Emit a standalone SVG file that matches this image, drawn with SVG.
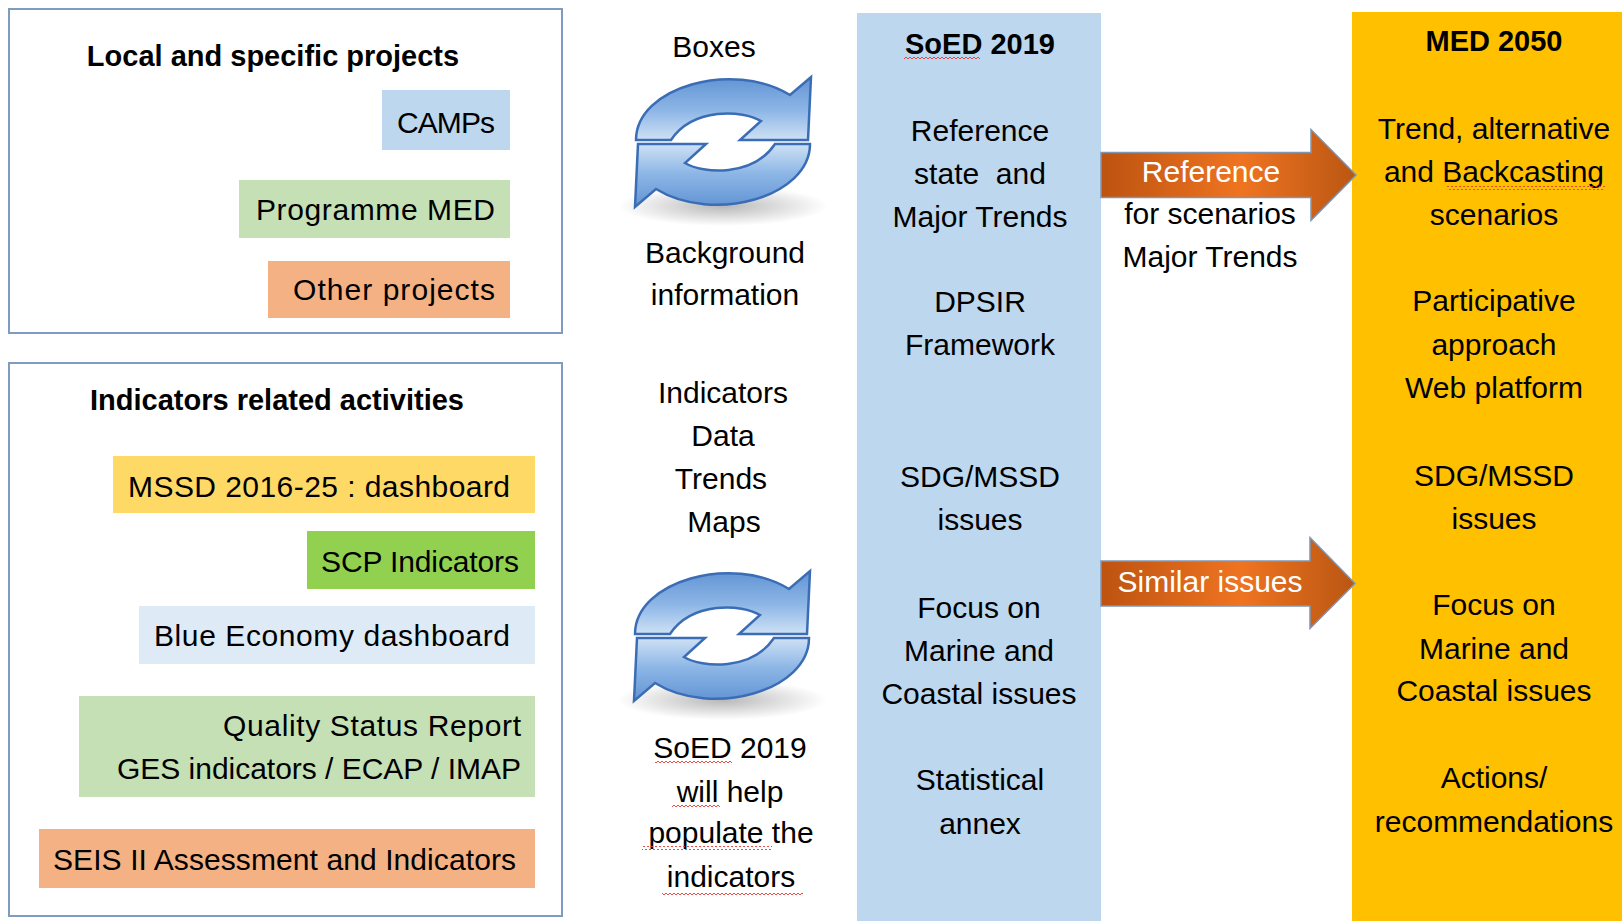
<svg xmlns="http://www.w3.org/2000/svg" xmlns:xlink="http://www.w3.org/1999/xlink" width="1622" height="921" viewBox="0 0 1622 921">
  <style>
    text { font-family: "Liberation Sans", Arial, sans-serif; fill: #000; }
    .h { font-size: 29px; font-weight: bold; text-anchor: middle; }
    .t { font-size: 30px; }
    .c { font-size: 30px; text-anchor: middle; }
    .e { font-size: 30px; text-anchor: end; }
    .w { font-size: 30px; text-anchor: middle; fill: #fff; }
    .frame { fill: #fff; stroke: #7F9BBF; stroke-width: 2; }
    .arrow { fill: url(#arrowGrad); stroke: #7D96B5; stroke-width: 1.5; }
    .squig { fill: url(#squig); }
  </style>
  <defs>
    <pattern id="squig" width="4" height="4" patternUnits="userSpaceOnUse">
      <path d="M0,3 L2,1 L4,3" fill="none" stroke="#E53935" stroke-width="0.9"/>
    </pattern>
    <linearGradient id="arrowGrad" x1="0" y1="0" x2="1" y2="0">
      <stop offset="0" stop-color="#BD5310"/>
      <stop offset="0.55" stop-color="#EF7421"/>
      <stop offset="1" stop-color="#BA5612"/>
    </linearGradient>
    <linearGradient id="icoGrad" gradientUnits="userSpaceOnUse" x1="0" y1="-70" x2="0" y2="0">
      <stop offset="0" stop-color="#5B8FD1"/>
      <stop offset="0.55" stop-color="#8DB6E6"/>
      <stop offset="1" stop-color="#D3E4F6"/>
    </linearGradient>
    <radialGradient id="shadowGrad" cx="0.5" cy="0.5" r="0.5">
      <stop offset="0" stop-color="#000" stop-opacity="0.28"/>
      <stop offset="1" stop-color="#000" stop-opacity="0"/>
    </radialGradient>
    <path id="halfArrow" d="M85,-2 L17,-2 L38,-21 C20,-32 -30,-35 -52,-2 L-87,-2 C-87,-55 10,-82 67,-47 L88,-65 Z" fill="url(#icoGrad)" stroke="#3A6DB5" stroke-width="2.5" stroke-linejoin="miter"/>
    <g id="cycleIcon">
      <ellipse cx="0" cy="64" rx="105" ry="20" fill="url(#shadowGrad)"/>
      <use xlink:href="#halfArrow"/>
      <use xlink:href="#halfArrow" transform="rotate(180)"/>
    </g>
  </defs>

  <rect width="1622" height="921" fill="#fff"/>

  <!-- Local and specific projects -->
  <g id="local-projects">
    <rect class="frame" x="9" y="9" width="553" height="324"/>
    <text class="h" x="273" y="66">Local and specific projects</text>
    <rect x="382" y="90" width="128" height="60" fill="#BDD7EE"/>
    <text class="e" x="495" y="133" textLength="98">CAMPs</text>
    <rect x="239" y="180" width="271" height="58" fill="#C5E0B4"/>
    <text class="e" x="495" y="220" textLength="239">Programme MED</text>
    <rect x="268" y="261" width="242" height="57" fill="#F4B183"/>
    <text class="e" x="495" y="300" textLength="202">Other projects</text>
  </g>

  <!-- Indicators related activities -->
  <g id="indicators-activities">
    <rect class="frame" x="9" y="363" width="553" height="553"/>
    <text class="h" x="277" y="410">Indicators related activities</text>
    <rect x="113" y="456" width="422" height="57" fill="#FFD966"/>
    <text class="t" x="128" y="497" textLength="382">MSSD 2016-25 : dashboard</text>
    <rect x="307" y="531" width="228" height="58" fill="#92D050"/>
    <text class="e" x="519" y="572" textLength="198">SCP Indicators</text>
    <rect x="139" y="606" width="396" height="58" fill="#DEEBF7"/>
    <text class="e" x="510" y="646" textLength="356">Blue Economy dashboard</text>
    <rect x="79" y="696" width="456" height="101" fill="#C5E0B4"/>
    <text class="e" x="521" y="736" textLength="298">Quality Status Report</text>
    <text class="e" x="521" y="779" textLength="404">GES indicators / ECAP / IMAP</text>
    <rect x="39" y="829" width="496" height="59" fill="#F4B183"/>
    <text class="t" x="53" y="870" textLength="463">SEIS II Assessment and Indicators</text>
  </g>

  <!-- Middle: boxes / background information -->
  <g id="boxes-background">
    <text class="c" x="714" y="57">Boxes</text>
    <use xlink:href="#cycleIcon" transform="translate(723,142)"/>
    <text class="c" x="725" y="263">Background</text>
    <text class="c" x="725" y="305">information</text>
  </g>

  <!-- Middle: indicators data -->
  <g id="indicators-data">
    <text class="c" x="723" y="403">Indicators</text>
    <text class="c" x="723" y="446">Data</text>
    <text class="c" x="721" y="489">Trends</text>
    <text class="c" x="724" y="532">Maps</text>
    <use xlink:href="#cycleIcon" transform="translate(722,636)"/>
    <text class="c" x="730" y="758">SoED 2019</text>
    <text class="c" x="730" y="802">will help</text>
    <text class="c" x="731" y="843">populate the</text>
    <text class="c" x="731" y="887">indicators</text>
    <rect class="squig" x="655" y="760" width="77" height="4"/>
    <rect class="squig" x="672" y="804" width="48" height="4"/>
    <rect class="squig" x="642" y="846" width="130" height="4"/>
    <rect class="squig" x="662" y="891" width="141" height="4"/>
  </g>

  <!-- SoED 2019 column -->
  <g id="soed-2019">
    <rect x="857" y="13" width="244" height="908" fill="#BDD7EE"/>
    <text class="h" x="980" y="54">SoED 2019</text>
    <rect class="squig" x="904" y="56" width="76" height="4"/>
    <text class="c" x="980" y="141">Reference</text>
    <text class="c" x="980" y="184" xml:space="preserve" style="white-space:pre">state  and</text>
    <text class="c" x="980" y="227">Major Trends</text>
    <text class="c" x="980" y="312">DPSIR</text>
    <text class="c" x="980" y="355">Framework</text>
    <text class="c" x="980" y="487">SDG/MSSD</text>
    <text class="c" x="980" y="530">issues</text>
    <text class="c" x="979" y="618">Focus on</text>
    <text class="c" x="979" y="661">Marine and</text>
    <text class="c" x="979" y="704">Coastal issues</text>
    <text class="c" x="980" y="790">Statistical</text>
    <text class="c" x="980" y="834">annex</text>
  </g>

  <!-- MED 2050 column -->
  <g id="med-2050">
    <rect x="1352" y="12" width="270" height="909" fill="#FFC000"/>
    <text class="h" x="1494" y="51">MED 2050</text>
    <text class="c" x="1494" y="139">Trend, alternative</text>
    <text class="c" x="1494" y="182">and Backcasting</text>
    <rect class="squig" x="1447" y="186" width="158" height="4"/>
    <text class="c" x="1494" y="225">scenarios</text>
    <text class="c" x="1494" y="311">Participative</text>
    <text class="c" x="1494" y="355">approach</text>
    <text class="c" x="1494" y="398">Web platform</text>
    <text class="c" x="1494" y="486">SDG/MSSD</text>
    <text class="c" x="1494" y="529">issues</text>
    <text class="c" x="1494" y="615">Focus on</text>
    <text class="c" x="1494" y="659">Marine and</text>
    <text class="c" x="1494" y="701">Coastal issues</text>
    <text class="c" x="1494" y="788">Actions/</text>
    <text class="c" x="1494" y="832">recommendations</text>
  </g>

  <!-- Connectors -->
  <g id="connectors">
    <g id="arrow-reference">
      <path class="arrow" d="M1101,152.5 H1311 V129.5 L1356,175 L1311,220.5 V197.5 H1101 Z"/>
      <text class="w" x="1211" y="182">Reference</text>
      <text class="c" x="1210" y="224">for scenarios</text>
      <text class="c" x="1210" y="267">Major Trends</text>
    </g>
    <g id="arrow-similar">
      <path class="arrow" d="M1101,561 H1310 V537.5 L1355,583.5 L1310,628.5 V606 H1101 Z"/>
      <text class="w" x="1210" y="592">Similar issues</text>
    </g>
  </g>
</svg>
